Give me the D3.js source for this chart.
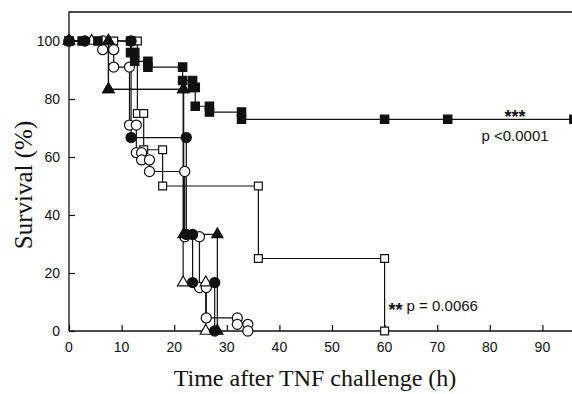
<!DOCTYPE html>
<html>
<head>
<meta charset="utf-8">
<script src="https://cdn.jsdelivr.net/npm/d3@7"></script>
<style>
  html, body { margin: 0; padding: 0; background: #fff; }
  svg { display: block; }
</style>
</head>
<body>
<div id="chart"></div>
<script>
// step vertices [time (h), survival (%)]
const filledSquares = [[0,100],[2.5,100],[5.5,100],[11.7,100],[11.7,96],[12.5,96],[12.5,93],[15,93],[15,91],[21.6,91],[21.6,86.4],[23.5,86.4],[23.5,84],[24,84],[24,77.5],[26.7,77.5],[26.7,75.5],[32.8,75.5],[32.8,73],[60,73],[72,73],[96,73]];
const openSquares = [[0,100],[8.5,100],[13,100],[13,75],[14.2,75],[14.2,62.5],[17.8,62.5],[17.8,50],[36,50],[36,25],[60,25],[60,0]];
const filledCircles = [[0,100],[3,100],[11.8,100],[11.8,66.7],[22.3,66.7],[22.3,33.3],[23.5,33.3],[23.5,16.7],[27.7,16.7],[27.7,0]];
const openCircles = [[0,100],[6.4,100],[6.4,97],[8.5,97],[8.5,91],[11.5,91],[11.5,71],[12.8,71],[12.8,61.5],[13.8,61.5],[13.8,59],[15.3,59],[15.3,55],[22,55],[22,32.5],[24.8,32.5],[24.8,15],[26.1,15],[26.1,4.5],[32,4.5],[32,2.3],[34,2.3],[34,0]];
const filledTriangles = [[0,100],[7.5,100],[7.5,83.3],[21.8,83.3],[21.8,33.3],[28.2,33.3],[28.2,0]];
const openTriangles = [[0,100],[4.3,100],[7.5,100],[7.5,83.3],[21.7,83.3],[21.7,16.7],[26,16.7],[26,0]];

const xTicks = [0,10,20,30,40,50,60,70,80,90];
const yTicks = [0,20,40,60,80,100];

const width = 572, height = 394;
const margin = { top: 12, left: 69, bottom: 63 };

const svg = d3.select("#chart").append("svg")
  .attr("width", width)
  .attr("height", height);

const x = d3.scaleLinear().domain([0, 96]).range([margin.left, margin.left + 96 * 5.26]);
const y = d3.scaleLinear().domain([0, 110]).range([height - margin.bottom, margin.top]);

const ink = "#111";
const tickFont = "Arial, 'Liberation Sans', sans-serif";
const serif = "'Times New Roman', 'Liberation Serif', serif";

// frame: top line + left axis
svg.append("path")
  .attr("d", `M${x(0)},${y(0)} V${y(110)} H${width + 5}`)
  .attr("fill", "none").attr("stroke", ink).attr("stroke-width", 1.3);

// axes with inward ticks
svg.append("g")
  .attr("transform", `translate(0, ${y(0)})`)
  .call(d3.axisTop(x).tickValues(xTicks).tickSize(6).tickFormat(""))
  .call((g) => g.select(".domain").attr("d", `M${x(0)},0H${width + 5}`).attr("stroke", ink).attr("stroke-width", 1.3))
  .call((g) => g.selectAll("line").attr("stroke", ink).attr("stroke-width", 1.2));

svg.append("g")
  .selectAll("text")
  .data(xTicks)
  .enter()
  .append("text")
  .attr("x", (d) => x(d))
  .attr("y", y(0) + 21)
  .attr("text-anchor", "middle")
  .attr("font-family", tickFont)
  .attr("font-size", 14)
  .attr("fill", ink)
  .text((d) => d);

svg.append("g")
  .attr("transform", `translate(${x(0)}, 0)`)
  .call(d3.axisRight(y).tickValues(yTicks).tickSize(6).tickFormat(""))
  .call((g) => g.select(".domain").remove())
  .call((g) => g.selectAll("line").attr("stroke", ink).attr("stroke-width", 1.2));

svg.append("g")
  .selectAll("text")
  .data(yTicks)
  .enter()
  .append("text")
  .attr("x", x(0) - 9)
  .attr("y", (d) => y(d) + 5)
  .attr("text-anchor", "end")
  .attr("font-family", tickFont)
  .attr("font-size", 14)
  .attr("fill", ink)
  .text((d) => d);

// axis titles
svg.append("text")
  .attr("x", 315)
  .attr("y", 386)
  .attr("text-anchor", "middle")
  .attr("font-family", serif)
  .attr("font-size", 24)
  .attr("fill", ink)
  .text("Time after TNF challenge (h)");

svg.append("text")
  .attr("transform", `translate(32, 185) rotate(-90)`)
  .attr("text-anchor", "middle")
  .attr("font-family", serif)
  .attr("font-size", 25)
  .attr("fill", ink)
  .text("Survival (%)");

// survival curves
const series = [
  { data: openSquares, shape: d3.symbolSquare, size: 62, fill: "#fff" },
  { data: openCircles, shape: d3.symbolCircle, size: 80, fill: "#fff" },
  { data: openTriangles, shape: d3.symbolTriangle, size: 55, fill: "#fff" },
  { data: filledTriangles, shape: d3.symbolTriangle, size: 55, fill: ink },
  { data: filledCircles, shape: d3.symbolCircle, size: 80, fill: ink },
  { data: filledSquares, shape: d3.symbolSquare, size: 70, fill: ink },
];

const line = d3.line().x((d) => x(d[0])).y((d) => y(d[1]));

series.forEach((s) => {
  svg.append("path")
    .attr("d", line(s.data))
    .attr("fill", "none")
    .attr("stroke", ink)
    .attr("stroke-width", 1.2);
});

series.forEach((s) => {
  svg.append("g")
    .selectAll("path")
    .data(s.data)
    .enter()
    .append("path")
    .attr("transform", (d) => `translate(${x(d[0])}, ${y(d[1])})`)
    .attr("d", d3.symbol().type(s.shape).size(s.size))
    .attr("fill", s.fill)
    .attr("stroke", ink)
    .attr("stroke-width", 1.2);
});

// significance labels
svg.append("text")
  .attr("x", x(84.8))
  .attr("y", y(73) + 4)
  .attr("text-anchor", "middle")
  .attr("font-family", tickFont)
  .attr("font-size", 18)
  .attr("font-weight", "bold")
  .attr("fill", ink)
  .text("***");

svg.append("text")
  .attr("x", x(84.8))
  .attr("y", y(73) + 22)
  .attr("text-anchor", "middle")
  .attr("font-family", tickFont)
  .attr("font-size", 15)
  .attr("fill", ink)
  .text("p <0.0001");

svg.append("text")
  .attr("x", x(60) + 4)
  .attr("y", y(7) + 5)
  .attr("font-family", tickFont)
  .attr("font-size", 18)
  .attr("font-weight", "bold")
  .attr("fill", ink)
  .text("**");

svg.append("text")
  .attr("x", x(60) + 22)
  .attr("y", y(7))
  .attr("font-family", tickFont)
  .attr("font-size", 15)
  .attr("fill", ink)
  .text("p = 0.0066");
</script>
</body>
</html>
